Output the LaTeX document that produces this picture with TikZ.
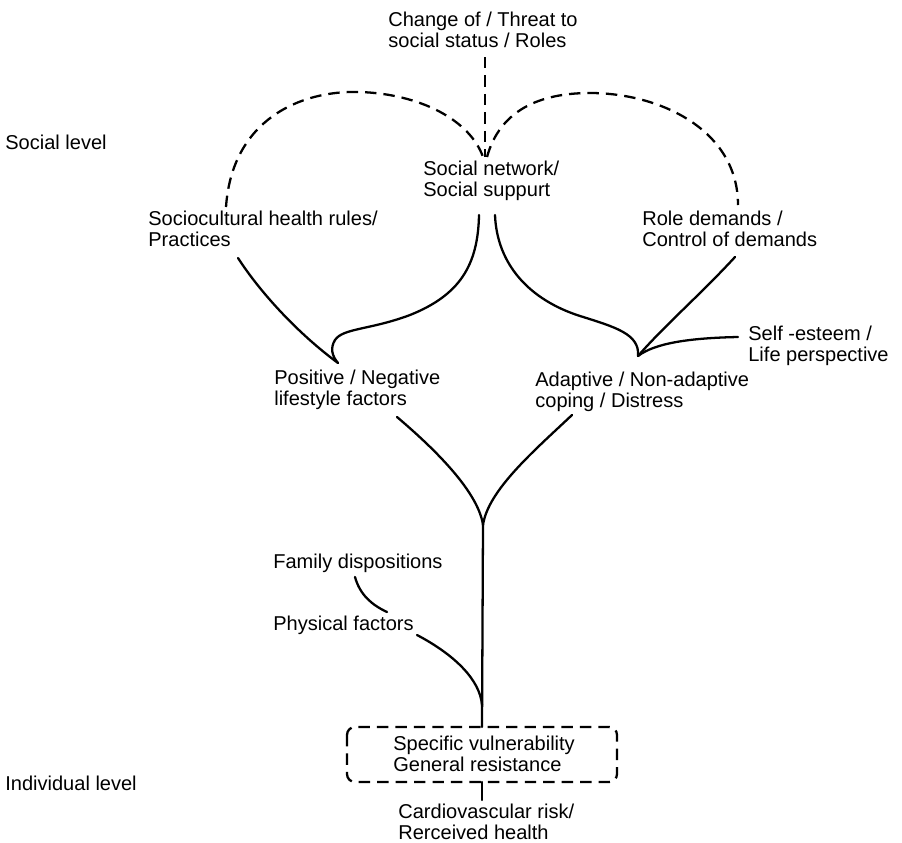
\documentclass[tikz,border=0pt]{standalone}
\usepackage{fontspec}
\setmainfont{Liberation Sans}
\begin{document}
\begin{tikzpicture}[x=0.02cm,y=-0.02cm,
  lbl/.style={inner sep=0pt,anchor=west,align=left,font=\fontsize{11.4}{12}\selectfont},
  link/.style={line width=1.3pt,line cap=round},
  dlink/.style={line width=1.3pt,dash pattern=on 6.5pt off 4pt},
  grp/.style={draw,line width=1.3pt,dash pattern=on 6.5pt off 4pt,rounded corners=4.5pt}]
\useasboundingbox (0,0) rectangle (902,842);

% level captions
\node[lbl] (social) at (5,142) {Social level};
\node[lbl] (indiv) at (5,783) {Individual level};

% factor labels
\node[lbl] (threat) at (388,30) {Change of / Threat to\\social status / Roles};
\node[lbl] (network) at (423,181) {Social network/\\Social suppurt};
\node[lbl] (socio) at (148,229) {Sociocultural health rules/\\Practices};
\node[lbl] (role) at (642,229) {Role demands /\\Control of demands};
\node[lbl] (esteem) at (748,346) {Self -esteem /\\Life perspective};
\node[lbl] (life) at (274,390) {Positive / Negative\\lifestyle factors};
\node[lbl] (coping) at (535,392) {Adaptive / Non-adaptive\\coping / Distress};
\node[lbl] (family) at (273,563) {Family dispositions};
\node[lbl] (phys) at (273,625) {Physical factors};

% vulnerability box and outcome
\draw[grp] (347,727) rectangle (617,782);
\node[lbl] (vuln) at (393,754) {Specific vulnerability\\General resistance};
\coordinate (boxtop) at (482,727);
\coordinate (boxbot) at (482,782);
\node[lbl] (risk) at (398,822) {Cardiovascular risk/\\Rerceived health};

% meeting points
\coordinate (nettip) at (485,157);
\coordinate (lifetip) at (338,363);
\coordinate (copetip) at (638,356);
\coordinate (fork) at (483,525);
\coordinate (merge) at (482,705);

% dashed feedback loops into the social network
\draw[dlink] (485,57) -- (nettip);
\draw[dlink] (226,207) .. controls (232,120) and (300,90) .. (360,92)
  .. controls (420,94) and (470,120) .. (483,157);
\draw[dlink] (487,157) .. controls (500,110) and (540,93) .. (590,93)
  .. controls (660,93) and (738,130) .. (738,205);

% towards lifestyle factors
\draw[link] (238,258) .. controls (262,295) and (300,335) .. (lifetip);
\draw[link] (479,215) .. controls (478,265) and (460,295) .. (410,315)
  .. controls (370,330) and (343,328) .. (335,340)
  .. controls (330,348) and (332,356) .. (lifetip);

% towards coping
\draw[link] (495,215) .. controls (497,265) and (530,300) .. (580,316)
  .. controls (615,327) and (640,334) .. (copetip);
\draw[link] (735,257) .. controls (700,295) and (665,325) .. (copetip);
\draw[link] (738,337) .. controls (690,338) and (655,343) .. (copetip);

% fork into the individual level
\draw[link] (397,417) .. controls (430,445) and (478,490) .. (fork);
\draw[link] (572,415) .. controls (535,450) and (488,490) .. (fork);
\draw[link] (fork) -- (boxtop);
\draw[link] (355,577) .. controls (360,595) and (372,605) .. (387,612);
\draw[link] (417,635) .. controls (455,655) and (480,680) .. (merge);
\draw[link] (boxbot) -- (482,800);
\end{tikzpicture}
\end{document}
